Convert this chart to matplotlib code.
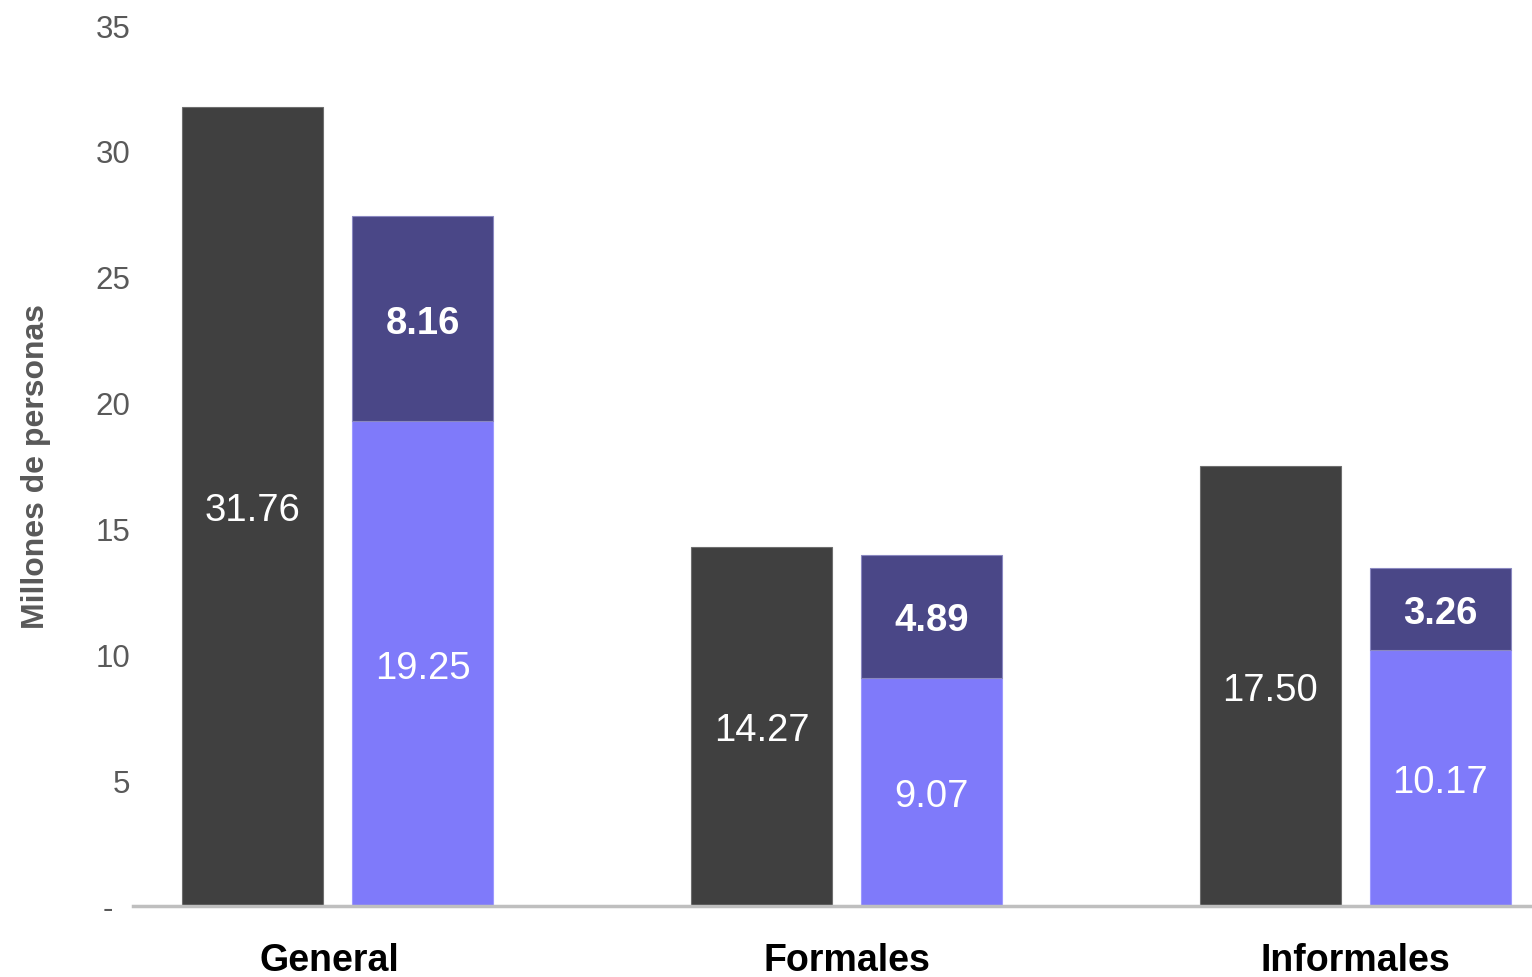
import matplotlib.pyplot as plt
import matplotlib.transforms as mtransforms
import numpy as np

plt.rcParams["font.family"] = ["Liberation Sans", "DejaVu Sans"]

categories = ["General", "Formales", "Informales"]
total = [31.76, 14.27, 17.50]
base = [19.25, 9.07, 10.17]
extra = [8.16, 4.89, 3.26]

dark_grey = "#404040"
light_purple = "#7F7AFA"
dark_purple = "#4A4787"
tick_grey = "#595959"

x = np.arange(len(categories))
width = 0.277
offset = 0.167

fig = plt.figure(figsize=(15.32, 9.78), dpi=100)
ax = fig.add_axes([0.0868, 0.0726, 0.9132, 0.9008])

ax.bar(x - offset, total, width, color=dark_grey, edgecolor="#6e6e6e", linewidth=0.8, zorder=2)
ax.bar(x + offset, base, width, color=light_purple, edgecolor="#9d99ff", linewidth=0.8, zorder=2)
ax.bar(x + offset, extra, width, bottom=base, color=dark_purple, edgecolor="#8a88c0", linewidth=0.8, zorder=2)

# value labels inside the bars
for xi, t, b, e in zip(x, total, base, extra):
    ax.text(xi - offset, t / 2, f"{t:.2f}", ha="center", va="center_baseline", color="white",
            fontsize=27.5, zorder=3)
    ax.text(xi + offset, b / 2, f"{b:.2f}", ha="center", va="center_baseline", color="white",
            fontsize=27.5, zorder=3)
    ax.text(xi + offset, b + e / 2, f"{e:.2f}", ha="center", va="center_baseline", color="white",
            fontsize=27.5, fontweight="bold", zorder=3)

ax.set_xlim(-0.402, 2.347)
ax.set_ylim(0, 35)

yticks = [0, 5, 10, 15, 20, 25, 30, 35]
ax.set_yticks(yticks)
ax.set_yticklabels(["-  "] + [str(v) for v in yticks[1:]])
ax.tick_params(axis="y", length=0, pad=2, labelsize=22.5, labelcolor=tick_grey)

ax.set_xticks(x)
ax.set_xticklabels(categories, fontsize=27, fontweight="bold", color="black")
ax.tick_params(axis="x", length=0, pad=26)
# nudge the first category label a little to the left
lab = ax.get_xticklabels()[0]
lab.set_transform(lab.get_transform() + mtransforms.ScaledTranslation(-0.08, 0, fig.dpi_scale_trans))

for side in ["left", "right", "top"]:
    ax.spines[side].set_visible(False)
ax.spines["bottom"].set_color("#BFBFBF")
ax.spines["bottom"].set_linewidth(2.5)
ax.spines["bottom"].set_zorder(4)

ax.set_ylabel("Millones de personas", fontsize=23, fontweight="bold", color=tick_grey, labelpad=32)

fig.savefig("out.png", dpi=100)
